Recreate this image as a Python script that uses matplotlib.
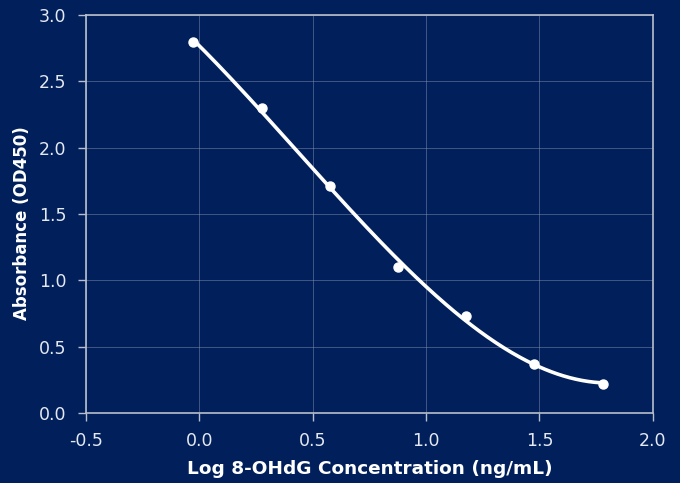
import numpy as np
import matplotlib
matplotlib.use("Agg")
import matplotlib.pyplot as plt

conc = [0.94, 1.88, 3.75, 7.5, 15, 30, 60]  # ng/mL
absorbance = [2.80, 2.30, 1.71, 1.10, 0.73, 0.37, 0.22]

bg = '#001f5b'
fg = '#e4e8f0'

log_conc = np.log10(conc)
coef = np.polyfit(log_conc, absorbance, 3)
xs = np.linspace(log_conc.min(), log_conc.max(), 200)

plt.rcParams['font.family'] = ['DejaVu Sans']
fig = plt.figure(figsize=(6.8, 4.83), dpi=100, facecolor=bg)
ax = fig.add_axes([0.1265, 0.145, 0.8335, 0.824])
ax.set_facecolor(bg)

ax.plot(xs, np.polyval(coef, xs), color='white', lw=2.6, solid_capstyle='round', zorder=3)
ax.plot(log_conc, absorbance, 'o', color='white', ms=6.5, zorder=4)

ax.set_xlim(-0.5, 2.0)
ax.set_ylim(0, 3.0)
ax.set_xticks(np.arange(-0.5, 2.01, 0.5))
ax.set_yticks(np.arange(0, 3.01, 0.5))
ax.xaxis.set_major_formatter(matplotlib.ticker.FormatStrFormatter('%.1f'))
ax.yaxis.set_major_formatter(matplotlib.ticker.FormatStrFormatter('%.1f'))
ax.grid(True, color='#8a96b0', lw=0.6, alpha=0.55)

for s in ax.spines.values():
    s.set_color('#b8bfcc')
    s.set_linewidth(1.2)
ax.tick_params(colors='#b8bfcc', labelcolor=fg, labelsize=12.5, length=6, width=1, pad=8)

ax.set_xlabel('Log 8-OHdG Concentration (ng/mL)', color='white', fontsize=13.3,
              fontweight='bold', labelpad=7)
ax.set_ylabel('Absorbance (OD450)', color='white', fontsize=12,
              fontweight='bold', labelpad=10)
ax.yaxis.set_label_coords(-0.097, 0.477)

fig.savefig('out.png', dpi=100, facecolor=bg)
